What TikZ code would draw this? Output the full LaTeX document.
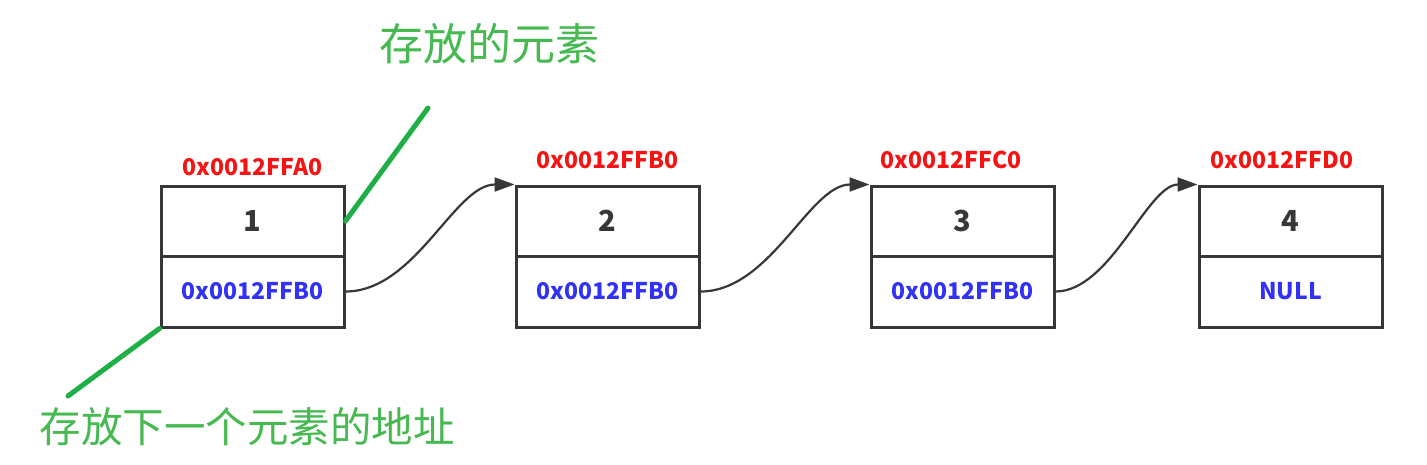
\documentclass[tikz,border=0pt]{standalone}
\usepackage{fontspec}
\setmainfont{Noto Sans CJK SC}
\newfontfamily\cjk{Noto Sans CJK SC}
\usetikzlibrary{arrows.meta}

\definecolor{addrred}{RGB}{245,20,20}
\definecolor{ptrblue}{RGB}{50,50,245}
\definecolor{notegreen}{RGB}{70,185,80}
\definecolor{linegreen}{RGB}{30,175,70}
\definecolor{boxgray}{RGB}{55,55,55}

\begin{document}
\begin{tikzpicture}[x=1pt,y=-1pt,
  cell/.style={draw=boxgray,line width=3pt,minimum width=183pt,inner sep=0pt},
  valcell/.style={cell,minimum height=70pt,text=boxgray,font=\bfseries\fontsize{29}{31}\selectfont},
  ptrcell/.style={cell,minimum height=71pt,text=ptrblue,font=\bfseries\fontsize{23}{25}\selectfont},
  addr/.style={text=addrred,font=\bfseries\fontsize{23}{25}\selectfont},
  link/.style={draw=boxgray,line width=2.2pt,-{Triangle[length=20pt,width=14pt]}},
  note/.style={text=notegreen,font=\cjk\fontsize{#1}{#1}\selectfont},
  pointer/.style={draw=linegreen,line width=5pt,line cap=round}]
  \useasboundingbox (0,0) rectangle (1427,464);

  % nodes of the list
  \node[valcell] (v1) at (252.5,221) {1};
  \node[ptrcell] (p1) at (252.5,291.5) {0x0012FFB0};
  \node[valcell] (v2) at (607.5,221) {2};
  \node[ptrcell] (p2) at (607.5,291.5) {0x0012FFB0};
  \node[valcell] (v3) at (962.5,221) {3};
  \node[ptrcell] (p3) at (962.5,291.5) {0x0012FFB0};
  \node[valcell] (v4) at (1290.5,221) {4};
  \node[ptrcell] (p4) at (1290.5,291.5) {NULL};

  % addresses
  \node[addr] (a1) at (252.5,167) {0x0012FFA0};
  \node[addr] (a2) at (607.5,160) {0x0012FFB0};
  \node[addr] (a3) at (951,160) {0x0012FFC0};
  \node[addr] (a4) at (1282,160) {0x0012FFD0};

  % links
  \draw[link] (p1.east) .. controls +(70,0) and +(-60,0) .. (v2.north west);
  \draw[link] (p2.east) .. controls +(70,0) and +(-60,0) .. (v3.north west);
  \draw[link] (p3.east) .. controls +(55,0) and +(-50,0) .. (v4.north west);

  % notes
  \node[note=44] (n1) at (489,44) {存放的元素};
  \node[note=41.5] (n2) at (247,427) {存放下一个元素的地址};
  \coordinate (e1) at (428,108);
  \coordinate (e2) at (68,396);
  \draw[pointer] (v1.east) -- (e1);
  \draw[pointer] (p1.south west) -- (e2);
\end{tikzpicture}
\end{document}
